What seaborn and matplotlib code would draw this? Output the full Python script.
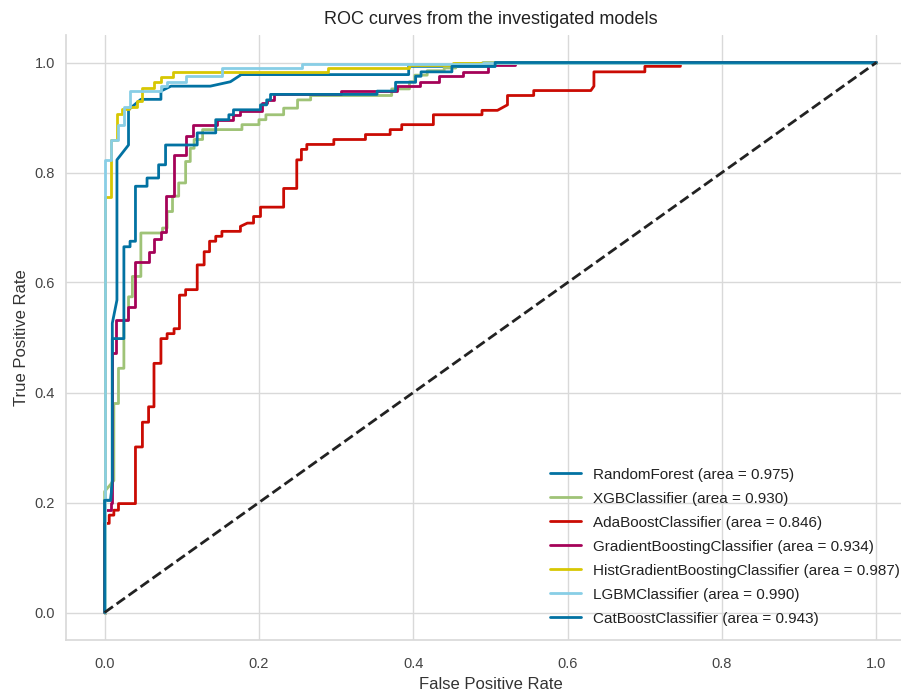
import numpy as np
import matplotlib
matplotlib.use("Agg")
import matplotlib.pyplot as plt
import seaborn as sns

# ROC points (fpr, tpr corners of the step curves)
rf_fpr = [0, 0, 0.008, 0.01, 0.01, 0.016, 0.016, 0.031, 0.031, 0.047, 0.073, 0.073, 0.086,
          0.137, 0.163, 0.176, 0.176, 0.394, 0.394, 0.506, 0.506, 1.0]
rf_tpr = [0, 0.204, 0.204, 0.24, 0.526, 0.568, 0.823, 0.85, 0.914, 0.933, 0.933, 0.948, 0.957,
          0.957, 0.965, 0.977, 0.978, 0.978, 0.993, 0.993, 1.0, 1.0]

xgb_fpr = [0, 0, 0.012, 0.012, 0.018, 0.018, 0.025, 0.025, 0.031, 0.031, 0.036, 0.036, 0.047,
           0.047, 0.075, 0.075, 0.081, 0.081, 0.088, 0.088, 0.096, 0.096, 0.105, 0.105, 0.111,
           0.111, 0.116, 0.116, 0.127, 0.127, 0.178, 0.178, 0.2, 0.2, 0.209, 0.209, 0.232,
           0.232, 0.25, 0.25, 0.267, 0.267, 0.372, 0.372, 0.395, 0.395, 0.402, 0.402, 0.418,
           0.418, 0.44, 0.44, 0.455, 0.455, 0.49, 0.49, 1.0]
xgb_tpr = [0, 0.22, 0.24, 0.38, 0.38, 0.444, 0.444, 0.532, 0.532, 0.574, 0.574, 0.611, 0.611,
           0.69, 0.69, 0.699, 0.699, 0.729, 0.729, 0.757, 0.757, 0.781, 0.781, 0.82, 0.82,
           0.844, 0.844, 0.86, 0.86, 0.878, 0.878, 0.887, 0.887, 0.896, 0.896, 0.905, 0.905,
           0.917, 0.917, 0.932, 0.932, 0.94, 0.94, 0.952, 0.952, 0.965, 0.965, 0.977, 0.977,
           0.985, 0.985, 0.99, 0.99, 0.998, 0.998, 1.0, 1.0]

ada_fpr = [0, 0, 0.006, 0.006, 0.012, 0.012, 0.018, 0.018, 0.04, 0.04, 0.049, 0.049, 0.057,
           0.057, 0.064, 0.064, 0.073, 0.073, 0.081, 0.081, 0.09, 0.09, 0.097, 0.097, 0.105,
           0.105, 0.12, 0.12, 0.129, 0.129, 0.136, 0.136, 0.144, 0.144, 0.152, 0.152, 0.176,
           0.176, 0.185, 0.193, 0.193, 0.202, 0.202, 0.232, 0.232, 0.249, 0.249, 0.255, 0.255,
           0.262, 0.262, 0.297, 0.297, 0.338, 0.338, 0.37, 0.37, 0.385, 0.385, 0.426, 0.426,
           0.489, 0.489, 0.509, 0.522, 0.522, 0.556, 0.556, 0.63, 0.634, 0.634, 0.7, 0.7,
           0.746, 0.746, 1.0]
ada_tpr = [0, 0.162, 0.162, 0.177, 0.177, 0.186, 0.186, 0.198, 0.198, 0.301, 0.301, 0.346,
           0.346, 0.374, 0.374, 0.453, 0.453, 0.498, 0.498, 0.507, 0.507, 0.516, 0.516, 0.577,
           0.577, 0.587, 0.587, 0.632, 0.632, 0.656, 0.656, 0.675, 0.675, 0.684, 0.684, 0.693,
           0.693, 0.702, 0.708, 0.708, 0.72, 0.72, 0.737, 0.737, 0.771, 0.771, 0.823, 0.823,
           0.842, 0.842, 0.851, 0.851, 0.86, 0.86, 0.869, 0.869, 0.878, 0.878, 0.887, 0.887,
           0.905, 0.905, 0.913, 0.913, 0.923, 0.94, 0.94, 0.949, 0.949, 0.957, 0.983, 0.983,
           0.993, 0.993, 1.0, 1.0]

gb_fpr = [0, 0, 0.008, 0.008, 0.01, 0.01, 0.015, 0.015, 0.03, 0.03, 0.04, 0.04, 0.057, 0.057,
          0.064, 0.064, 0.073, 0.073, 0.079, 0.079, 0.09, 0.09, 0.105, 0.105, 0.114, 0.114,
          0.146, 0.146, 0.167, 0.167, 0.176, 0.176, 0.204, 0.204, 0.211, 0.211, 0.219, 0.219,
          0.306, 0.306, 0.379, 0.379, 0.409, 0.409, 0.433, 0.433, 0.465, 0.465, 0.497, 0.497,
          0.532, 0.532, 1.0]
gb_tpr = [0, 0.186, 0.186, 0.2, 0.2, 0.472, 0.472, 0.532, 0.532, 0.556, 0.556, 0.638, 0.638,
          0.656, 0.656, 0.68, 0.68, 0.692, 0.692, 0.757, 0.757, 0.832, 0.832, 0.866, 0.866,
          0.887, 0.887, 0.896, 0.896, 0.905, 0.905, 0.911, 0.911, 0.927, 0.927, 0.932, 0.932,
          0.942, 0.942, 0.948, 0.948, 0.957, 0.957, 0.965, 0.965, 0.975, 0.975, 0.983, 0.983,
          0.995, 0.995, 1.0, 1.0]

hgb_fpr = [0, 0, 0.008, 0.008, 0.016, 0.016, 0.023, 0.023, 0.031, 0.031, 0.042, 0.042, 0.049,
           0.049, 0.064, 0.064, 0.073, 0.073, 0.088, 0.088, 0.29, 0.29, 0.394, 0.394, 0.452,
           0.452, 1.0]
hgb_tpr = [0, 0.755, 0.755, 0.86, 0.86, 0.907, 0.907, 0.915, 0.915, 0.92, 0.92, 0.93, 0.93,
           0.954, 0.954, 0.964, 0.964, 0.973, 0.973, 0.982, 0.982, 0.99, 0.99, 0.995, 0.995,
           1.0, 1.0]

lgbm_fpr = [0, 0, 0.008, 0.008, 0.018, 0.018, 0.025, 0.025, 0.033, 0.033, 0.073, 0.073, 0.081,
            0.081, 0.105, 0.105, 0.152, 0.152, 0.256, 0.256, 0.49, 0.49, 1.0]
lgbm_tpr = [0, 0.823, 0.823, 0.86, 0.86, 0.887, 0.887, 0.92, 0.92, 0.949, 0.949, 0.957, 0.957,
            0.965, 0.965, 0.975, 0.975, 0.99, 0.99, 0.997, 0.997, 1.0, 1.0]

cat_fpr = [0, 0, 0.008, 0.01, 0.01, 0.025, 0.025, 0.033, 0.033, 0.04, 0.04, 0.055, 0.055,
           0.07, 0.07, 0.079, 0.079, 0.12, 0.12, 0.144, 0.144, 0.161, 0.161, 0.167, 0.167,
           0.202, 0.202, 0.21, 0.21, 0.215, 0.215, 0.353, 0.353, 0.377, 0.377, 0.403, 0.403,
           0.41, 0.41, 0.45, 0.45, 0.506, 0.506, 1.0]
cat_tpr = [0, 0.204, 0.204, 0.24, 0.498, 0.498, 0.665, 0.665, 0.675, 0.675, 0.775, 0.775,
           0.79, 0.79, 0.814, 0.814, 0.85, 0.85, 0.872, 0.872, 0.896, 0.896, 0.905, 0.905,
           0.914, 0.914, 0.923, 0.923, 0.932, 0.932, 0.942, 0.942, 0.948, 0.948, 0.964, 0.964,
           0.975, 0.975, 0.983, 0.983, 0.993, 0.993, 1.0, 1.0]

model_names = ["RandomForest", "XGBClassifier", "AdaBoostClassifier",
               "GradientBoostingClassifier", "HistGradientBoostingClassifier",
               "LGBMClassifier", "CatBoostClassifier"]
model_auc = [0.975, 0.930, 0.846, 0.934, 0.987, 0.990, 0.943]
model_fpr = [rf_fpr, xgb_fpr, ada_fpr, gb_fpr, hgb_fpr, lgbm_fpr, cat_fpr]
model_tpr = [rf_tpr, xgb_tpr, ada_tpr, gb_tpr, hgb_tpr, lgbm_tpr, cat_tpr]

# yellowbrick palette, cycles back to blue for the 7th model
COLORS = ["#0272a2", "#9fc377", "#ca0b03", "#a50258", "#d7c703", "#88cee6", "#0272a2"]

sns.set_theme(style="whitegrid")
plt.rcParams["font.family"] = ["Liberation Sans", "DejaVu Sans"]
plt.rcParams.update({
    "grid.color": "#d9d9d9",
    "axes.edgecolor": "#d9d9d9",
    "xtick.color": "#444444",
    "ytick.color": "#444444",
    "axes.labelcolor": "#333333",
    "text.color": "#222222",
})

fig = plt.figure(figsize=(9.01, 6.91), dpi=100)
# axes run a little past the right edge of the picture, as in the reference crop
ax = fig.add_axes([66 / 901, 51 / 691, 849 / 901, 605 / 691])

for name, auc, fpr, tpr, color in zip(model_names, model_auc, model_fpr, model_tpr, COLORS):
    sns.lineplot(x=fpr, y=tpr, ax=ax, color=color, linewidth=2, estimator=None, sort=False,
                 label=f"{name} (area = {auc:.3f})")

ax.plot([0, 1], [0, 1], linestyle="--", color="#222222", linewidth=2)

ax.set_xlim(-0.05, 1.05)
ax.set_ylim(-0.05, 1.05)
ax.set_xticks(np.arange(0, 1.01, 0.2))
ax.set_yticks(np.arange(0, 1.01, 0.2))
ax.tick_params(labelsize=10.5)
ax.tick_params(axis="x", pad=6.4)
ax.tick_params(axis="y", pad=2.0)
ax.set_xlabel("False Positive Rate", fontsize=12)
ax.set_ylabel("True Positive Rate", fontsize=12)
ax.set_title("ROC curves from the investigated models", fontsize=13, pad=8)
sns.despine(ax=ax, top=True, right=True)

ax.legend(loc="lower left", bbox_to_anchor=(0.554, 0.001), frameon=False, fontsize=11,
          handlelength=2.0, labelspacing=0.655)

fig.savefig("out.png", dpi=100)
